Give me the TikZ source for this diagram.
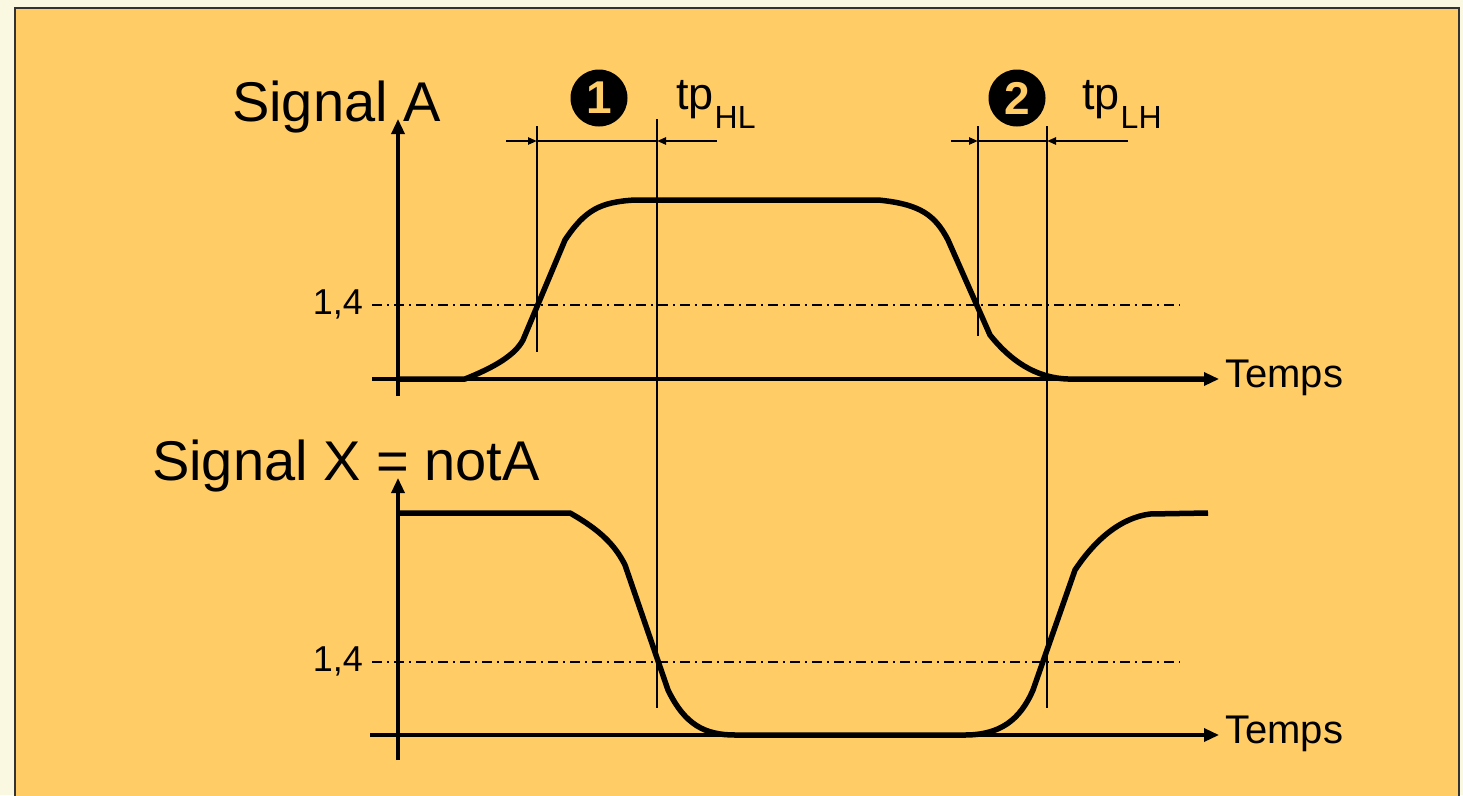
\documentclass[tikz,border=0pt]{standalone}
\usepackage{fontspec}
\setmainfont{Liberation Sans}
\usetikzlibrary{arrows.meta}
\definecolor{bgcream}{HTML}{FAF8E0}
\definecolor{bgorange}{HTML}{FFCC66}
\tikzset{
  axis/.style={line width=3.3pt,-{Triangle[length=15pt,width=13pt]}},
  sig/.style={line width=5.5pt,line join=round},
  marker/.style={line width=2.8pt},
  dimline/.style={line width=2.6pt},
  dimarrow/.style={line width=2.6pt,-{Triangle[length=9pt,width=7pt]}},
  level/.style={line width=1.4pt,dash pattern=on 10pt off 5pt on 2pt off 5pt},
  bigtxt/.style={font=\fontsize{56}{56}\selectfont,inner sep=0pt},
  medtxt/.style={font=\fontsize{40}{40}\selectfont,inner sep=0pt},
  lvltxt/.style={font=\fontsize{36}{36}\selectfont,inner sep=0pt},
  tptxt/.style={font=\fontsize{45}{45}\selectfont,inner sep=0pt},
  numcirc/.style={circle,fill=black,minimum size=57pt,inner sep=0pt,text=bgorange,font=\fontsize{46}{46}\selectfont\bfseries}
}
\begin{document}
\begin{tikzpicture}[x=1pt,y=-1pt]
\useasboundingbox (0,0) rectangle (1463,795);
\fill[bgcream] (0,0) rectangle (1463,795);
\draw[fill=bgorange,draw=black!80,line width=1.5pt] (15,8) rectangle (1459,830);

% ---------- Signal A ----------
\coordinate (aYbot) at (398,396);
\coordinate (aYtop) at (398,119);
\coordinate (aXl) at (372,379);
\coordinate (aXr) at (1219,379);
\coordinate (aLl) at (372,305);
\coordinate (aLr) at (1180,305);
\draw[axis] (aYbot) -- (aYtop);
\draw[axis] (aXl) -- (aXr);
\draw[level] (aLl) -- (aLr);
\node[lvltxt,anchor=base east] (lvlA) at (363,314) {1,4};
\node[bigtxt,anchor=base west] (sigA) at (232,121) {Signal A};
\node[medtxt,anchor=base west] (tempsA) at (1225,387) {Temps};

\draw[sig] (398,379) -- (465,379) .. controls (495,367) and (515,355) .. (523,340)
  -- (565,240) .. controls (585,210) and (600,202) .. (635,200)
  -- (878,200) .. controls (920,204) and (935,215) .. (948,240)
  -- (990,335) .. controls (1010,360) and (1035,378) .. (1068,379) -- (1205,379);

% ---------- Signal X ----------
\coordinate (xYbot) at (398,760);
\coordinate (xYtop) at (398,478);
\coordinate (xXl) at (370,735);
\coordinate (xXr) at (1219,735);
\coordinate (xLl) at (372,662);
\coordinate (xLr) at (1180,662);
\draw[axis] (xYbot) -- (xYtop);
\draw[axis] (xXl) -- (xXr);
\draw[level] (xLl) -- (xLr);
\node[lvltxt,anchor=base east] (lvlX) at (363,671) {1,4};
\node[bigtxt,anchor=base west] (sigX) at (152,480) {Signal X = notA};
\node[medtxt,anchor=base west] (tempsX) at (1225,743) {Temps};

\draw[sig] (398,513) -- (570,513) .. controls (600,530) and (615,545) .. (625,565)
  -- (668,690) .. controls (685,725) and (705,735) .. (735,735)
  -- (965,735) .. controls (1000,735) and (1020,720) .. (1033,690)
  -- (1075,570) .. controls (1095,540) and (1120,518) .. (1150,514) -- (1208,513);

% ---------- markers ----------
\coordinate (m1t) at (537,126);
\coordinate (m1b) at (537,352);
\coordinate (m2t) at (657,119);
\coordinate (m2b) at (657,708);
\coordinate (m3t) at (978,126);
\coordinate (m3b) at (978,336);
\coordinate (m4t) at (1047,126);
\coordinate (m4b) at (1047,708);
\draw[marker] (m1t) -- (m1b);
\draw[marker] (m2t) -- (m2b);
\draw[marker] (m3t) -- (m3b);
\draw[marker] (m4t) -- (m4b);

% dimension 1
\coordinate (d1s) at (506,141);
\coordinate (d1a) at (537,141);
\coordinate (d1b) at (657,141);
\coordinate (d1e) at (717,141);
\draw[dimarrow] (d1s) -- (d1a);
\draw[dimline] (d1a) -- (d1b);
\draw[dimarrow] (d1e) -- (d1b);
% dimension 2
\coordinate (d2s) at (951,141);
\coordinate (d2a) at (978,141);
\coordinate (d2b) at (1047,141);
\coordinate (d2e) at (1128,141);
\draw[dimarrow] (d2s) -- (d2a);
\draw[dimline] (d2a) -- (d2b);
\draw[dimarrow] (d2e) -- (d2b);

\node[numcirc] (n1) at (599,98) {1};
\node[numcirc] (n2) at (1017,98) {2};
\node[tptxt,anchor=base west] (tpHL) at (676,109) {tp\kern1pt\raisebox{-19pt}{\fontsize{32}{32}\selectfont HL}};
\node[tptxt,anchor=base west] (tpLH) at (1082,109) {tp\kern1pt\raisebox{-19pt}{\fontsize{32}{32}\selectfont LH}};
\end{tikzpicture}
\end{document}
